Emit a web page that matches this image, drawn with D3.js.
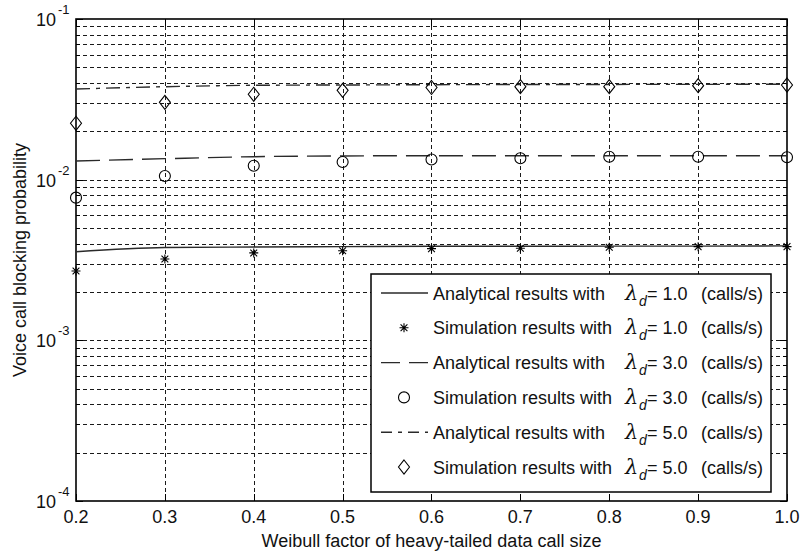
<!DOCTYPE html>
<html><head><meta charset="utf-8">
<script src="https://cdn.jsdelivr.net/npm/d3@7"></script>
<style>
body{margin:0;background:#fff}
text{font-family:"Liberation Sans",Arial,sans-serif;fill:#111}
</style>
</head><body>
<svg id="chart" width="801" height="554"></svg>
<script>
// ---- data ----
const weibullFactors = [0.2, 0.3, 0.4, 0.5, 0.6, 0.7, 0.8, 0.9, 1.0];
const analytical1 = [0.00356, 0.00378, 0.00381, 0.00383, 0.00385, 0.00385, 0.00386, 0.00386, 0.00387];
const simulation1 = [0.00270, 0.00321, 0.00350, 0.00361, 0.00372, 0.00374, 0.00380, 0.00383, 0.00383];
const analytical3 = [0.01307, 0.01351, 0.01390, 0.01405, 0.01410, 0.01410, 0.01410, 0.01410, 0.01410];
const simulation3 = [0.00773, 0.01054, 0.01222, 0.01288, 0.01336, 0.01359, 0.01390, 0.01390, 0.01378];
const analytical5 = [0.03667, 0.03790, 0.03867, 0.03884, 0.03900, 0.03910, 0.03915, 0.03920, 0.03924];
const simulation5 = [0.02244, 0.03031, 0.03400, 0.03600, 0.03748, 0.03790, 0.03790, 0.03845, 0.03884];
const xTickLabels = ["0.2","0.3","0.4","0.5","0.6","0.7","0.8","0.9","1.0"];
const yTickExponents = [-1, -2, -3, -4];
const legendLabels = [
  {kind:"Analytical", lam:"1.0"},
  {kind:"Simulation", lam:"1.0"},
  {kind:"Analytical", lam:"3.0"},
  {kind:"Simulation", lam:"3.0"},
  {kind:"Analytical", lam:"5.0"},
  {kind:"Simulation", lam:"5.0"}
];

// ---- layout ----
const svg = d3.select("#chart");
const L = 76, R = 787, T = 19, B = 501;
const x = d3.scaleLinear().domain([0.2, 1.0]).range([L, R]);
const y = d3.scaleLog().domain([1e-4, 1e-1]).range([B, T]);

// grid
const gridG = svg.append("g");
const yGridVals = [];
for (let e = -4; e < -1; e++) for (let m = 1; m <= 9; m++) yGridVals.push(m * Math.pow(10, e));
gridG.selectAll("line.hg").data(yGridVals.filter(v => v > 1e-4)).enter().append("line")
  .attr("x1", L).attr("x2", R).attr("y1", d => Math.round(y(d)) + 0.5).attr("y2", d => Math.round(y(d)) + 0.5)
  .attr("stroke", "#1a1a1a").attr("stroke-width", 1).attr("stroke-dasharray", "4,3");
gridG.selectAll("line.vg").data(weibullFactors.slice(1, -1)).enter().append("line")
  .attr("y1", T).attr("y2", B).attr("x1", d => Math.round(x(d)) + 0.5).attr("x2", d => Math.round(x(d)) + 0.5)
  .attr("stroke", "#1a1a1a").attr("stroke-width", 1).attr("stroke-dasharray", "4,3");

// ticks (inward, MATLAB style)
const tickG = svg.append("g").attr("stroke", "#000").attr("stroke-width", 1);
weibullFactors.forEach(v => {
  const px = Math.round(x(v)) + 0.5;
  tickG.append("line").attr("x1", px).attr("x2", px).attr("y1", B).attr("y2", B - 7);
  tickG.append("line").attr("x1", px).attr("x2", px).attr("y1", T).attr("y2", T + 7);
});
yGridVals.concat([1e-1]).forEach(v => {
  const py = Math.round(y(v)) + 0.5;
  const len = (Math.abs(Math.log10(v) - Math.round(Math.log10(v))) < 1e-9) ? 7 : 4;
  tickG.append("line").attr("x1", L).attr("x2", L + len).attr("y1", py).attr("y2", py);
  tickG.append("line").attr("x1", R).attr("x2", R - len).attr("y1", py).attr("y2", py);
});

// axes box
svg.append("rect").attr("x", L).attr("y", T).attr("width", R - L).attr("height", B - T)
  .attr("fill", "none").attr("stroke", "#000").attr("stroke-width", 1.6);

// x tick labels
svg.append("g").selectAll("text").data(weibullFactors).enter().append("text")
  .attr("x", d => x(d)).attr("y", 523).attr("text-anchor", "middle").attr("font-size", 18)
  .text((d, i) => xTickLabels[i]);

// y tick labels
const yl = svg.append("g");
yTickExponents.forEach(e => {
  const py = y(Math.pow(10, e));
  yl.append("text").attr("x", 56).attr("y", py + 7).attr("text-anchor", "end").attr("font-size", 18).text("10");
  yl.append("text").attr("x", 58).attr("y", py - 5).attr("font-size", 13).text(String(e));
});

// axis titles
svg.append("text").attr("x", (L + R) / 2).attr("y", 547).attr("text-anchor", "middle").attr("font-size", 18)
  .text("Weibull factor of heavy-tailed data call size");
svg.append("text").attr("transform", `translate(26,${(T + B) / 2}) rotate(-90)`).attr("text-anchor", "middle")
  .attr("font-size", 18).text("Voice call blocking probability");

// ---- series ----
const lineColor = "#2a2a2a";
const lineGen = d3.line().x((d, i) => x(weibullFactors[i])).y(d => y(d)).curve(d3.curveMonotoneX);
const lineStyles = [
  {data: analytical1, dash: null, legendDash: null},
  {data: analytical3, dash: "24,9", legendDash: "19,9"},
  {data: analytical5, dash: "14,6,4,6", legendDash: "11,6,4,6"}
];
const plotG = svg.append("g");
lineStyles.forEach(s => {
  plotG.append("path").datum(s.data).attr("d", lineGen).attr("fill", "none")
    .attr("stroke", lineColor).attr("stroke-width", 1.4).attr("stroke-dasharray", s.dash);
});

function asterisk(g, cx, cy) {
  const r = 4.5, rd = 3.4;
  const p = `M${cx - r},${cy}L${cx + r},${cy}M${cx},${cy - r}L${cx},${cy + r}` +
            `M${cx - rd},${cy - rd}L${cx + rd},${cy + rd}M${cx - rd},${cy + rd}L${cx + rd},${cy - rd}`;
  g.append("path").attr("d", p).attr("stroke", "#000").attr("stroke-width", 1.1).attr("fill", "none");
}
function circ(g, cx, cy) {
  g.append("circle").attr("cx", cx).attr("cy", cy).attr("r", 5.5).attr("fill", "none").attr("stroke", "#000").attr("stroke-width", 1.1);
}
function diamond(g, cx, cy) {
  g.append("path").attr("d", `M${cx},${cy - 7}L${cx + 5.5},${cy}L${cx},${cy + 7}L${cx - 5.5},${cy}Z`)
    .attr("fill", "none").attr("stroke", "#000").attr("stroke-width", 1.1);
}
simulation1.forEach((v, i) => asterisk(plotG, x(weibullFactors[i]), y(v)));
simulation3.forEach((v, i) => circ(plotG, x(weibullFactors[i]), y(v)));
simulation5.forEach((v, i) => diamond(plotG, x(weibullFactors[i]), y(v)));

// ---- legend ----
const lg = svg.append("g");
const LX = 371, LY = 274, LW = 400, LH = 218;
lg.append("rect").attr("x", LX).attr("y", LY).attr("width", LW).attr("height", LH)
  .attr("fill", "#fff").attr("stroke", "#000").attr("stroke-width", 1.5);
const rowY0 = 293, rowStep = 34.8;
legendLabels.forEach((d, i) => {
  const cy = rowY0 + i * rowStep;
  const k = Math.floor(i / 2);
  if (d.kind === "Analytical") {
    lg.append("line").attr("x1", 381).attr("x2", 428).attr("y1", cy).attr("y2", cy)
      .attr("stroke", lineColor).attr("stroke-width", 1.4)
      .attr("stroke-dasharray", lineStyles[k].legendDash);
  } else {
    if (k === 0) asterisk(lg, 404, cy); else if (k === 1) circ(lg, 404, cy); else diamond(lg, 404, cy);
  }
  const t = lg.append("text").attr("x", 433).attr("y", cy + 6.5).attr("font-size", 18);
  t.append("tspan").text(d.kind + " results with ");
  t.append("tspan").attr("x", 625).style("font-family", "'DejaVu Serif','Liberation Serif',serif")
    .style("font-style", "italic").attr("font-size", 21).text("λ");
  t.append("tspan").attr("x", 639).attr("dy", 6).style("font-style", "italic").attr("font-size", 14).text("d");
  t.append("tspan").attr("x", 647).attr("dy", -6).text("= " + d.lam);
  t.append("tspan").attr("x", 701).text("(calls/s)");
});
</script>
</body></html>
